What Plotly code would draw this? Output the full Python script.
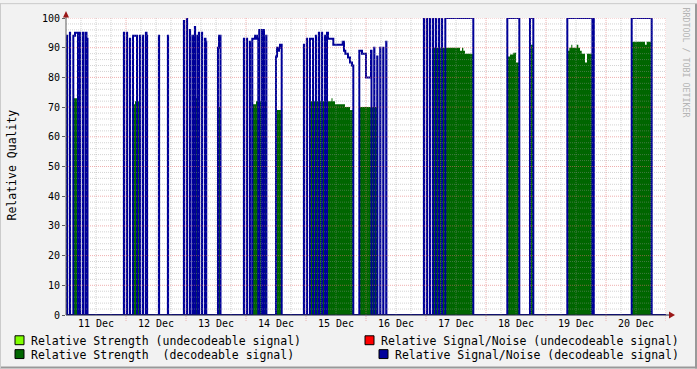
import plotly.graph_objects as go

# ---------------- data (time in hours since 11 Dec 00:00) ----------------
# Relative Signal/Noise (decodeable signal): runs of (start hour, end hour, value)
snr_start = [0.36, 1.56, 2.92, 3.60, 5.56, 6.76, 7.80, 8.20,
             23.16, 24.36, 25.56, 26.80, 29.56, 30.76, 31.96, 32.20,
             37.16, 40.76,
             47.16, 48.36, 49.56, 50.60, 51.56, 52.56, 53.16, 54.36, 55.56, 55.80,
             60.80, 61.20,
             71.16, 72.36, 73.56, 74.52, 75.60, 76.40, 77.28, 78.40, 80.08,
             84.00, 84.40, 84.80, 85.20, 85.60,
             95.16, 96.36, 97.60, 99.96, 101.16, 102.36, 103.56, 104.40, 104.80,
             106.92, 110.68, 111.20, 111.72, 112.80, 113.60, 114.40,
             117.32, 118.40, 120.00, 122.00, 123.28, 124.48, 125.68, 126.88, 128.08,
             143.16, 144.36, 145.56, 146.76, 147.96, 149.16, 150.36, 151.72,
             176.52, 185.60, 200.52, 211.04, 226.28]
snr_end = [0.44, 1.64, 3.60, 4.80, 5.64, 6.84, 8.20, 8.60,
           23.24, 24.44, 25.64, 28.40, 29.64, 30.84, 32.20, 32.44,
           37.24, 40.84,
           47.24, 48.44, 49.64, 51.00, 51.64, 52.64, 53.24, 54.44, 55.80, 56.10,
           61.20, 61.80,
           71.24, 72.44, 73.64, 75.60, 76.40, 76.92, 77.36, 79.20, 80.16,
           84.40, 84.80, 85.20, 85.60, 86.28,
           95.24, 96.44, 98.80, 100.04, 101.24, 102.44, 103.64, 104.80, 106.92,
           110.68, 111.20, 111.72, 112.80, 113.60, 114.40, 114.92,
           118.40, 120.00, 122.00, 122.20, 123.36, 124.56, 125.76, 126.96, 128.16,
           143.24, 144.44, 145.64, 146.84, 148.04, 149.24, 150.44, 162.92,
           181.32, 186.92, 210.56, 211.12, 234.28]
snr_value = [94, 95, 94, 95, 95, 95, 95, 93,
             95, 95, 93, 94, 94, 94, 95, 94,
             94, 94,
             99, 100, 96, 94, 97, 94, 95, 95, 93, 92,
             90, 94,
             93, 93, 92, 93, 94, 93, 96, 96, 94,
             87, 90, 89, 90, 91,
             91, 93, 93, 94, 95, 95, 94, 95, 93,
             91, 92, 89, 88, 86.7, 85, 84,
             89, 88, 80, 89, 90, 87, 90, 90, 92,
             100, 100, 100, 100, 100, 100, 100, 100,
             100, 100, 100, 100, 100]

# Relative Strength (decodeable signal): runs of (start hour, end hour, value)
str_start = [2.80, 4.40, 7.60,
             26.60, 27.60, 31.60,
             50.40, 51.20, 52.80, 55.70,
             60.80,
             74.40, 76.00,
             84.40,
             97.20, 106.20, 106.60, 107.60, 111.60, 113.60,
             117.32,
             146.68, 147.20, 157.60, 158.40, 158.92, 159.60,
             176.52, 177.60, 178.92, 180.00,
             185.80,
             200.52, 201.32, 202.12, 202.52, 204.28, 204.92, 205.60, 206.28, 207.60, 208.40,
             226.28, 231.60, 232.28]
str_end = [4.40, 5.60, 8.60,
           27.60, 29.60, 32.50,
           51.20, 52.80, 53.60, 56.40,
           61.60,
           76.00, 80.40,
           86.00,
           106.20, 106.60, 107.60, 111.60, 113.60, 114.92,
           124.80,
           147.20, 157.60, 158.40, 158.92, 159.60, 162.92,
           177.60, 178.92, 180.00, 181.32,
           186.92,
           201.32, 202.12, 202.52, 204.28, 204.92, 205.60, 206.28, 207.60, 208.40, 210.56,
           231.60, 232.28, 234.28]
str_value = [73, 72, 72,
             71, 72, 72,
             71, 73, 72, 71,
             70,
             71, 72,
             69,
             72, 73, 72, 71, 70, 69,
             70,
             91, 90, 89, 90, 89, 88,
             87, 87.7, 88.3, 85,
             91,
             89, 90, 91, 90, 91, 90, 89, 88, 85, 88,
             92, 91, 92]

day_hours = [12, 36, 60, 84, 108, 132, 156, 180, 204, 228]
day_labels = ["11 Dec", "12 Dec", "13 Dec", "14 Dec", "15 Dec",
              "16 Dec", "17 Dec", "18 Dec", "19 Dec", "20 Dec"]
y_ticks = [0, 10, 20, 30, 40, 50, 60, 70, 80, 90, 100]

legend_items = [
    ("Relative Strength (undecodeable signal)", "#80FF00"),
    ("Relative Strength\u00a0 (decodeable signal)", "#006600"),
    ("Relative Signal/Noise (undecodeable signal)", "#FF0000"),
    ("Relative Signal/Noise (decodeable signal)", "#000099"),
]

X_RANGE = [0, 240]
Y_RANGE = [0, 100]

# ---------------- helpers ----------------
W, H = 697, 369
L, R, T, B = 66, 31, 15, 54
PW, PH = W - L - R, H - T - B
MONO = "DejaVu Sans Mono"


def px2x(px):
    return (px - L) / PW


def py2y(py):
    return (T + PH - py) / PH


def step_path(starts, ends, vals, x0=None, x1=None):
    xs, ys = [], []
    if x0 is not None:
        xs.append(x0)
        ys.append(0)
    prev = None
    for s, e, v in zip(starts, ends, vals):
        if prev is not None and abs(s - prev) < 1e-6:
            xs += [s, e]
            ys += [v, v]
        else:
            if prev is not None:
                xs.append(prev)
                ys.append(0)
            xs += [s, s, e]
            ys += [0, v, v]
        prev = e
    xs.append(prev)
    ys.append(0)
    if x1 is not None:
        xs.append(x1)
        ys.append(0)
    return xs, ys


fig = go.Figure()

gx, gy = step_path(str_start, str_end, str_value)
fig.add_trace(go.Scatter(x=gx, y=gy, mode="lines", fill="tozeroy",
                         fillcolor="#006600", line=dict(width=0, color="#006600"),
                         hoverinfo="skip"))

bx, by = step_path(snr_start, snr_end, snr_value, X_RANGE[0], X_RANGE[1])
fig.add_trace(go.Scatter(x=bx, y=by, mode="lines",
                         line=dict(width=2, color="#000099"),
                         hoverinfo="skip"))

shapes = []
minor_col = "rgba(150,150,150,0.42)"
major_col = "rgba(225,110,110,0.55)"
# vertical grid
for h in range(6, 241, 6):
    col = major_col if h % 24 == 0 else minor_col
    y_bot = -6 / PH if h % 24 == 0 else 0
    shapes.append(dict(type="line", xref="x", yref="paper", x0=h, x1=h,
                       y0=y_bot, y1=1, layer="above",
                       line=dict(color=col, width=1, dash="1px,1px")))
# horizontal grid
for v in range(2, 101, 2):
    col = major_col if v % 10 == 0 else minor_col
    shapes.append(dict(type="line", xref="paper", yref="y", x0=0, x1=1,
                       y0=v, y1=v, layer="above",
                       line=dict(color=col, width=1, dash="1px,1px")))
# axes
shapes.append(dict(type="line", xref="paper", yref="paper",
                   x0=px2x(66), x1=px2x(670), y0=0, y1=0, layer="above",
                   line=dict(color="#202040", width=1)))
shapes.append(dict(type="line", xref="paper", yref="paper",
                   x0=0, x1=0, y0=0, y1=py2y(12), layer="above",
                   line=dict(color="#606060", width=1)))
# arrows
shapes.append(dict(type="path", xref="paper", yref="paper", layer="above",
                   path=f"M {px2x(66)} {py2y(8)} L {px2x(63)} {py2y(14.5)} L {px2x(69)} {py2y(14.5)} Z",
                   fillcolor="#9A1818", line=dict(width=0)))
shapes.append(dict(type="path", xref="paper", yref="paper", layer="above",
                   path=f"M {px2x(675)} {py2y(315)} L {px2x(669)} {py2y(311.5)} L {px2x(669)} {py2y(318.5)} Z",
                   fillcolor="#9A1818", line=dict(width=0)))
# frame
shapes.append(dict(type="line", xref="paper", yref="paper", x0=px2x(0), x1=px2x(697),
                   y0=py2y(368), y1=py2y(368), line=dict(color="#999999", width=2)))
shapes.append(dict(type="line", xref="paper", yref="paper", x0=px2x(696), x1=px2x(696),
                   y0=py2y(0), y1=py2y(369), line=dict(color="#999999", width=2)))
shapes.append(dict(type="line", xref="paper", yref="paper", x0=px2x(0), x1=px2x(697),
                   y0=py2y(0.5), y1=py2y(0.5), line=dict(color="#CBCBCB", width=1)))
shapes.append(dict(type="line", xref="paper", yref="paper", x0=px2x(0.5), x1=px2x(0.5),
                   y0=py2y(0), y1=py2y(369), line=dict(color="#CBCBCB", width=1)))

# legend squares
sq_pos = [(15, 336), (15, 350), (365, 336), (379, 350)]
txt_pos = [(30, 341), (30, 355), (380, 341), (394, 355)]
annotations = []
for (label, col), (sx, sy), (tx, ty) in zip(legend_items, sq_pos, txt_pos):
    shapes.append(dict(type="rect", xref="paper", yref="paper",
                       x0=px2x(sx), x1=px2x(sx + 9), y0=py2y(sy), y1=py2y(sy + 9),
                       fillcolor=col, line=dict(color="#000000", width=1)))
    annotations.append(dict(text=label, xref="paper", yref="paper",
                            x=px2x(tx), y=py2y(ty), xanchor="left", yanchor="middle",
                            showarrow=False, borderpad=0,
                            font=dict(family=MONO, size=11.5, color="#000000")))

for h, lab in zip(day_hours, day_labels):
    annotations.append(dict(text=lab, xref="x", yref="paper", x=h, y=py2y(324),
                            xanchor="center", yanchor="middle", showarrow=False,
                            borderpad=0, font=dict(family=MONO, size=10, color="#000000")))

annotations.append(dict(text="Relative Quality", xref="paper", yref="paper",
                        x=px2x(12), y=py2y(164), textangle=-90, showarrow=False,
                        xanchor="center", yanchor="middle", borderpad=0,
                        font=dict(family=MONO, size=11.5, color="#000000")))
annotations.append(dict(text="RRDTOOL / TOBI OETIKER", xref="paper", yref="paper",
                        x=px2x(686), y=py2y(60), textangle=90, showarrow=False,
                        xanchor="center", yanchor="middle", borderpad=0,
                        font=dict(family=MONO, size=8.3, color="#B4B4B4")))

fig.update_layout(
    width=W, height=H,
    margin=dict(l=L, r=R, t=T, b=B, pad=0),
    paper_bgcolor="#F2F2F2", plot_bgcolor="#FFFFFF",
    showlegend=False,
    xaxis=dict(range=X_RANGE, showgrid=False, zeroline=False, showline=False,
               showticklabels=False, ticks="", fixedrange=True),
    yaxis=dict(range=Y_RANGE, showgrid=False, zeroline=False, showline=False,
               tickvals=y_ticks, ticks="outside", ticklen=3, tickcolor="#606060",
               tickfont=dict(family=MONO, size=10, color="#000000"), fixedrange=True),
    shapes=shapes, annotations=annotations,
)

fig.write_html("out.html", config={"displayModeBar": False},
               post_script="document.body.style.margin='0';")
